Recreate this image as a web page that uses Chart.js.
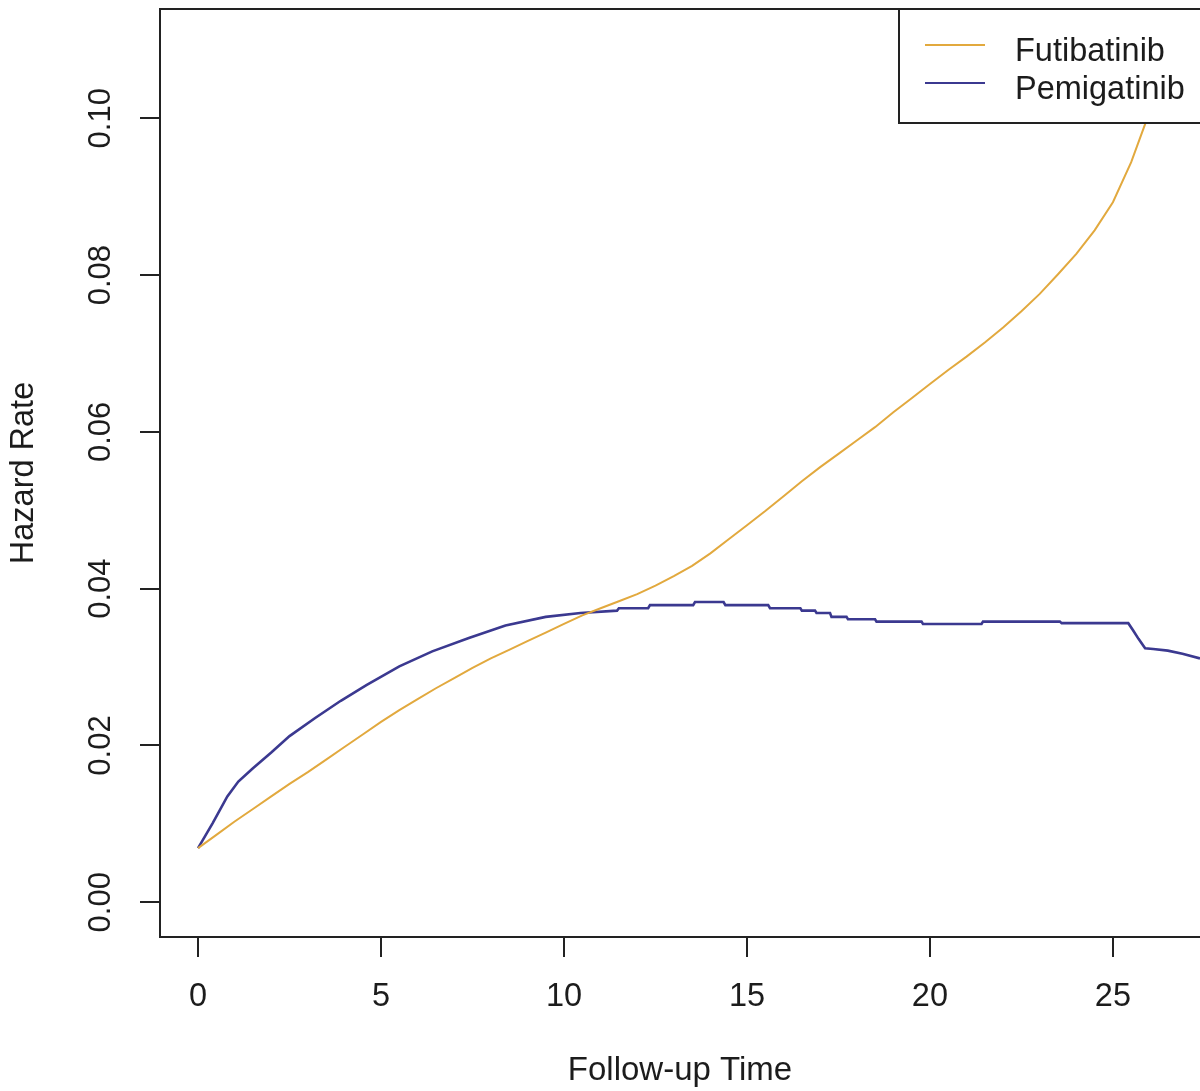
<!DOCTYPE html>
<html>
<head>
<meta charset="utf-8">
<title>Hazard Rate</title>
<script src="https://cdn.jsdelivr.net/npm/chart.js@4.4.1/dist/chart.umd.min.js"></script>
<style>
  html, body { margin: 0; padding: 0; background: #fff; }
  #wrap { width: 1200px; height: 1091px; }
</style>
</head>
<body>
<div id="wrap"><canvas id="hazard" width="1200" height="1091"></canvas></div>
<script>
// smoothed hazard estimates by follow-up time (months)
const futTime = [0, 0.5, 1, 1.5, 2, 2.5, 3, 3.5, 4, 4.5, 5, 5.5, 6, 6.5, 7, 7.5, 8, 8.5, 9, 9.5,
  10, 10.5, 11, 11.5, 12, 12.5, 13, 13.5, 14, 14.5, 15, 15.5, 16, 16.5, 17, 17.5, 18, 18.5, 19, 19.5,
  20, 20.5, 21, 21.5, 22, 22.5, 23, 23.5, 24, 24.5, 25, 25.5, 25.9, 26.3, 26.7, 27.1]
const futHazard = [0.0069, 0.0086, 0.0103, 0.0119, 0.0135, 0.0151, 0.0166, 0.0182, 0.0198, 0.0214,
  0.0230, 0.0245, 0.0259, 0.0273, 0.0286, 0.0299, 0.0311, 0.0322, 0.0333, 0.0344,
  0.0355, 0.0366, 0.0375, 0.0384, 0.0393, 0.0404, 0.0416, 0.0429, 0.0445, 0.0463,
  0.0481, 0.0499, 0.0518, 0.0537, 0.0555, 0.0572, 0.0589, 0.0606, 0.0625, 0.0643,
  0.0661, 0.0679, 0.0696, 0.0714, 0.0733, 0.0754, 0.0776, 0.0801, 0.0827, 0.0857,
  0.0893, 0.0944, 0.0995, 0.1060, 0.1130, 0.1210]

const pemTime = [0, 0.4, 0.8, 1.1, 1.5, 2.0, 2.5, 3.2, 3.9, 4.6, 5.5, 6.4, 7.4, 8.4, 9.5, 10.45,
  11.45, 11.5, 12.3, 12.35, 13.53, 13.58, 14.36, 14.41, 15.58, 15.63, 16.46, 16.5, 16.86, 16.9,
  17.27, 17.31, 17.72, 17.76, 18.5, 18.54, 19.77, 19.81, 21.41, 21.45, 23.55, 23.6, 25.42,
  25.55, 25.7, 25.88, 26.1, 26.5, 26.9, 27.38]
const pemHazard = [0.0069, 0.0101, 0.0135, 0.0154, 0.0171, 0.0191, 0.0212, 0.0235, 0.0257, 0.0277,
  0.0301, 0.0320, 0.0337, 0.0353, 0.0364, 0.0369,
  0.0372, 0.0375, 0.0375, 0.0379, 0.0379, 0.0383, 0.0383, 0.0379, 0.0379, 0.0375, 0.0375, 0.0372,
  0.0372, 0.0369, 0.0369, 0.0364, 0.0364, 0.0361, 0.0361, 0.0358, 0.0358, 0.0355, 0.0355, 0.0358,
  0.0358, 0.0356, 0.0356, 0.0347, 0.0336, 0.0324, 0.0323, 0.0321, 0.0317, 0.0311]

const xTicks = [0, 5, 10, 15, 20, 25]
const yTicks = [0, 0.02, 0.04, 0.06, 0.08, 0.10]
const seriesNames = ['Futibatinib', 'Pemigatinib']
const seriesColors = ['#E2A93E', '#3B3990']

const FONT = '"Liberation Sans", Arial, sans-serif'
const INK = '#1c1c1c'

const toPoints = (xs, ys) => xs.map((x, i) => ({ x: x, y: ys[i] }))

// top edge of the frame plus the boxed legend, painted over the curves
const frameAndLegend = {
  id: 'frameAndLegend',
  afterDatasetsDraw(chart) {
    const ctx = chart.ctx
    const area = chart.chartArea
    ctx.save()
    ctx.strokeStyle = '#222'
    ctx.lineWidth = 2
    ctx.beginPath()
    ctx.moveTo(area.left, area.top)
    ctx.lineTo(area.right, area.top)
    ctx.stroke()

    const boxLeft = 899
    const boxH = 114
    ctx.fillStyle = '#fff'
    ctx.fillRect(boxLeft, area.top, area.right - boxLeft + 10, boxH)
    ctx.strokeRect(boxLeft, area.top, area.right - boxLeft + 10, boxH)

    ctx.font = '32.5px ' + FONT
    ctx.textAlign = 'left'
    ctx.textBaseline = 'alphabetic'
    chart.data.datasets.forEach((ds, i) => {
      const y = 45 + i * 38
      ctx.strokeStyle = ds.borderColor
      ctx.lineWidth = 2.2
      ctx.beginPath()
      ctx.moveTo(925, y)
      ctx.lineTo(985, y)
      ctx.stroke()
      ctx.fillStyle = INK
      ctx.fillText(ds.label, 1015, y + 16)
    })
    ctx.restore()
  }
}

new Chart(document.getElementById('hazard'), {
  type: 'line',
  data: {
    datasets: [
      {
        label: seriesNames[0],
        data: toPoints(futTime, futHazard),
        borderColor: seriesColors[0],
        borderWidth: 2,
        pointRadius: 0,
        tension: 0
      },
      {
        label: seriesNames[1],
        data: toPoints(pemTime, pemHazard),
        borderColor: seriesColors[1],
        borderWidth: 2.6,
        pointRadius: 0,
        tension: 0
      }
    ]
  },
  options: {
    responsive: false,
    animation: false,
    devicePixelRatio: 1,
    layout: { padding: { top: 9, left: 0, right: 0, bottom: 0 } },
    plugins: {
      legend: { display: false },
      tooltip: { enabled: false }
    },
    scales: {
      x: {
        type: 'linear',
        min: -1.04,
        max: 27.38,
        afterBuildTicks: (scale) => { scale.ticks = xTicks.map(v => ({ value: v })) },
        afterFit: (scale) => {
          scale.height = 154
          scale.paddingLeft = 0
          scale.paddingRight = 0
        },
        border: { display: true, color: '#222', width: 2 },
        grid: { display: true, drawOnChartArea: false, drawTicks: true, tickLength: 20, color: '#222', lineWidth: 2 },
        ticks: {
          color: INK,
          font: { family: FONT, size: 32.5 },
          padding: 21,
          maxRotation: 0,
          autoSkip: false,
          callback: (v) => String(v)
        },
        title: {
          display: true,
          text: 'Follow-up Time',
          color: INK,
          font: { family: FONT, size: 33 },
          padding: { top: 0, bottom: 0 }
        }
      },
      y: {
        type: 'linear',
        min: -0.00443,
        max: 0.11394,
        afterBuildTicks: (scale) => { scale.ticks = yTicks.map(v => ({ value: v })) },
        afterFit: (scale) => {
          scale.width = 160
          scale.paddingTop = 0
          scale.paddingBottom = 0
        },
        border: { display: true, color: '#222', width: 2 },
        grid: { display: true, drawOnChartArea: false, drawTicks: true, tickLength: 20, color: '#222', lineWidth: 2 },
        ticks: {
          color: INK,
          font: { family: FONT, size: 31 },
          padding: 8,
          minRotation: 90,
          maxRotation: 90,
          crossAlign: 'center',
          autoSkip: false,
          callback: (v) => v.toFixed(2)
        },
        title: {
          display: true,
          text: 'Hazard Rate',
          color: INK,
          font: { family: FONT, size: 32.5 },
          padding: { top: 5, bottom: 0 }
        }
      }
    }
  },
  plugins: [frameAndLegend]
})
</script>
</body>
</html>
